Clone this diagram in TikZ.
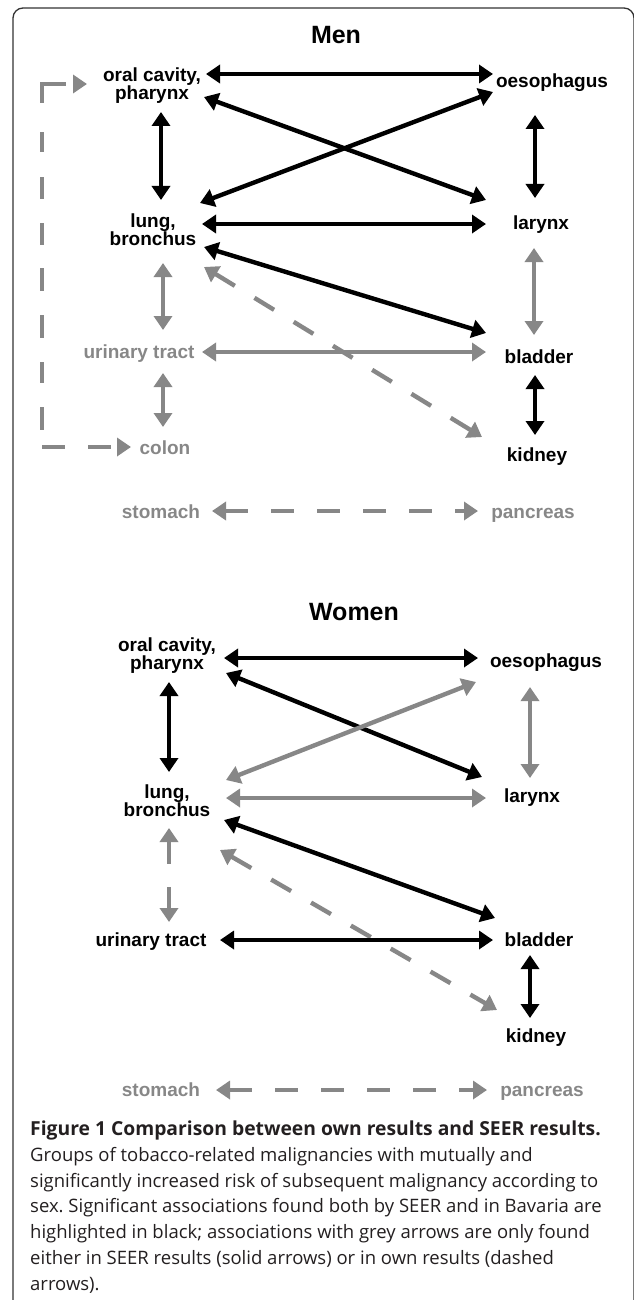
\documentclass[tikz,border=0pt]{standalone}
\usepackage{fontspec}
\setmainfont{Liberation Sans}
\newfontfamily\capfont{Open Sans}
\usetikzlibrary{calc,arrows.meta}
\definecolor{assocgrey}{HTML}{878787}
\definecolor{framegrey}{HTML}{333333}
\definecolor{captiontext}{HTML}{231F20}
\frenchspacing

\begin{document}
\begin{tikzpicture}[
  x=1pt, y=-1pt,
  site/.style={font=\fontsize{19}{18}\selectfont\bfseries, align=center, inner sep=0pt},
  sitegrey/.style={site, text=assocgrey},
  sextitle/.style={font=\fontsize{25}{25}\selectfont\bfseries, inner sep=0pt},
  bothlink/.style={{Triangle[length=14pt,width=18pt]}-{Triangle[length=14pt,width=18pt]}, line width=4.4pt},
  seerlink/.style={bothlink, color=assocgrey},
  ownlink/.style={seerlink, dash pattern=on 23pt off 23pt},
  ownloop/.style={seerlink, dash pattern=on 0pt off 8pt on 43pt off 29pt on 20pt off 25pt on 22pt off 24pt
    on 22pt off 23pt on 23pt off 24pt on 23pt off 24pt on 21pt off 24pt on 23pt off 17pt on 23pt off 23pt
    on 23pt off 30pt},
  caption/.style={font=\capfont\fontsize{18.5}{25.7}\selectfont, align=left, inner sep=0pt, text=captiontext}
]
  \useasboundingbox (0,0) rectangle (633,1300);
  \draw[framegrey, line width=1.3pt, rounded corners=10pt] (13,1320) -- (13,8) -- (634,8) -- (634,1320);

  % men
  \node[sextitle] (men) at (336,35) {Men};
  \node[site] (oral) at (152,86) {oral cavity,\\pharynx};
  \node[site] (oes) at (552,83) {oesophagus};
  \node[site] (lung) at (153,230) {lung,\\bronchus};
  \node[site] (lar) at (541,225) {larynx};
  \node[sitegrey] (uri) at (139,354) {urinary tract};
  \node[site] (bla) at (539,357) {bladder};
  \node[sitegrey] (colon) at (165,448) {colon};
  \node[site] (kid) at (537,457) {kidney};
  \node[sitegrey] (sto) at (161,512) {stomach};
  \node[sitegrey] (pan) at (533,515) {pancreas};

  \draw[bothlink] ($(oral)+(54,-12)$) -- ($(oes)+(-59,-9)$);
  \draw[bothlink] ($(oral)+(52,11)$) -- ($(lar)+(-55,-25)$);
  \draw[bothlink] ($(lung)+(47,-27)$) -- ($(oes)+(-59,9)$);
  \draw[bothlink] ($(oral)+(9,26)$) -- ($(lung)+(8,-30)$);
  \draw[bothlink] ($(oes)+(-17,32)$) -- ($(lar)+(-6,-27)$);
  \draw[bothlink] ($(lung)+(49,-6)$) -- ($(lar)+(-55,-1)$);
  \draw[bothlink] ($(lung)+(51,17)$) -- ($(bla)+(-53,-24)$);
  \draw[ownlink] ($(lung)+(51,37)$) -- ($(kid)+(-55,-20)$);
  \draw[seerlink] ($(lung)+(10,33)$) -- ($(uri)+(24,-24)$);
  \draw[seerlink] ($(lar)+(-7,23)$) -- ($(bla)+(-5,-22)$);
  \draw[seerlink] ($(uri)+(63,-2)$) -- ($(bla)+(-53,-5)$);
  \draw[seerlink] ($(uri)+(24,19)$) -- ($(colon)+(-2,-21)$);
  \draw[bothlink] ($(bla)+(-4,18)$) -- ($(kid)+(-2,-22)$);
  \draw[ownloop] ($(oral)+(-65,-2)$) -- ++(-45,0) |- ($(colon)+(-34,-1)$);
  \draw[ownlink] ($(sto)+(51,-1)$) -- ($(pan)+(-55,-4)$);

  % women
  \node[sextitle] (women) at (354,612) {Women};
  \node[site] (oralw) at (167,656) {oral cavity,\\pharynx};
  \node[site] (oesw) at (546,663) {oesophagus};
  \node[site] (lungw) at (167,801) {lung,\\bronchus};
  \node[site] (larw) at (532,798) {larynx};
  \node[site] (uriw) at (151,942) {urinary tract};
  \node[site] (blaw) at (539,940) {bladder};
  \node[site] (kidw) at (536,1038) {kidney};
  \node[sitegrey] (stow) at (161,1090) {stomach};
  \node[sitegrey] (panw) at (542,1093) {pancreas};

  \draw[bothlink] ($(oralw)+(57,2)$) -- ($(oesw)+(-68,-5)$);
  \draw[bothlink] ($(oralw)+(59,17)$) -- ($(larw)+(-50,-21)$);
  \draw[seerlink] ($(lungw)+(59,-21)$) -- ($(oesw)+(-70,19)$);
  \draw[bothlink] ($(oralw)+(2,26)$) -- ($(lungw)+(2,-29)$);
  \draw[seerlink] ($(oesw)+(-16,24)$) -- ($(larw)+(-2,-20)$);
  \draw[seerlink] ($(lungw)+(59,-3)$) -- ($(larw)+(-46,0)$);
  \draw[bothlink] ($(lungw)+(57,19)$) -- ($(blaw)+(-44,-22)$);
  \draw[ownlink] ($(lungw)+(53,49)$) -- ($(kidw)+(-39,-28)$);
  \draw[ownlink] ($(lungw)+(2,27)$) -- ($(uriw)+(18,-20)$);
  \draw[bothlink] ($(uriw)+(69,-2)$) -- ($(blaw)+(-46,0)$);
  \draw[bothlink] ($(blaw)+(-9,15)$) -- ($(kidw)+(-6,-20)$);
  \draw[ownlink] ($(stow)+(55,0)$) -- ($(panw)+(-55,-3)$);

  \node[caption, anchor=north west] (cap) at (30,1121) {%
    {\fontsize{19.3}{25.7}\selectfont\bfseries Figure 1 Comparison between own results and SEER results.}\\
    Groups of tobacco-related malignancies with mutually and\\
    significantly increased risk of subsequent malignancy according to\\
    sex. Significant associations found both by SEER and in Bavaria are\\
    highlighted in black; associations with grey arrows are only found\\
    either in SEER results (solid arrows) or in own results (dashed\\
    arrows).};
\end{tikzpicture}
\end{document}
